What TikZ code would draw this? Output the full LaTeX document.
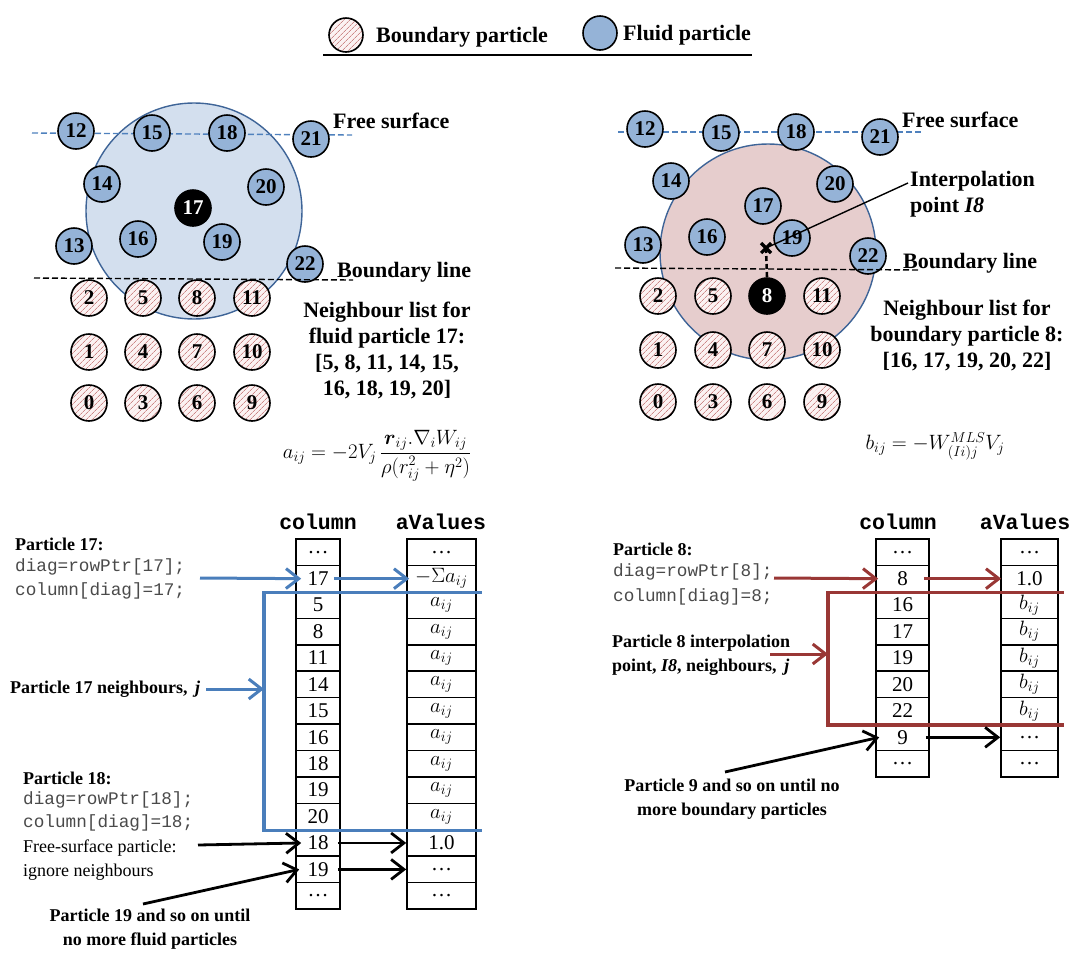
\documentclass[tikz,border=0pt]{standalone}
\usepackage{amsmath}
\usepackage{fontspec}
\setmainfont{Liberation Serif}
\setmonofont{Liberation Mono}
\usetikzlibrary{arrows.meta,patterns.meta}

\definecolor{fluid}{HTML}{95B3D7}
\definecolor{zoneblue}{HTML}{D3DFEE}
\definecolor{zonered}{HTML}{E6CDCD}
\definecolor{zoneedge}{HTML}{3E6497}
\definecolor{hatch}{HTML}{CC8888}
\definecolor{hatchbg}{HTML}{FBF2F2}
\definecolor{linkblue}{HTML}{4A7EBB}
\definecolor{linkred}{HTML}{993735}
\definecolor{codegray}{HTML}{4A4A4A}
\definecolor{surfblue}{HTML}{4F81BD}

\newcommand\bigbf{\fontsize{22}{26}\selectfont\bfseries}
\newcommand\smallbf{\fontsize{18}{24}\selectfont\bfseries}
\newcommand\smallrm{\fontsize{18}{24}\selectfont}
\newcommand\codefont{\fontsize{17.7}{24}\selectfont\ttfamily\color{codegray}}
\newcommand\headfont{\fontsize{21.5}{24}\selectfont\ttfamily\bfseries}
\newcommand\numfont{\fontsize{21}{21}\selectfont\bfseries}
\newcommand\cellfont{\fontsize{21}{21}\selectfont}

\begin{document}
\begin{tikzpicture}[x=1pt,y=-1pt,
  fluidp/.style={circle, draw=black, line width=1.6pt, fill=fluid, minimum size=36pt, inner sep=0pt, font=\numfont},
  bndp/.style={circle, draw=black, line width=1.6pt, minimum size=36pt, inner sep=0pt, font=\numfont,
    preaction={fill=hatchbg}, pattern={Lines[angle=45,distance=4pt,line width=0.7pt]}, pattern color=hatch},
  hotp/.style={circle, draw=black, line width=1.6pt, fill=black, text=white, minimum size=36pt, inner sep=0pt, font=\numfont},
  zone/.style={circle, draw=zoneedge, line width=1.4pt, inner sep=0pt, minimum size=216pt},
  surfline/.style={surfblue, dash pattern=on 6pt off 3pt, line width=1.4pt},
  bndline/.style={black, dash pattern=on 6pt off 3pt, line width=1.4pt},
  txt/.style={inner sep=0pt, anchor=west},
  cell/.style={draw=black, line width=1.6pt, minimum height=26.43pt, inner sep=0pt, font=\cellfont},
  bluearrow/.style={draw=linkblue, line width=3pt, -{Straight Barb[length=4.5mm,width=7mm]}},
  redarrow/.style={draw=linkred, line width=3pt, -{Straight Barb[length=4.5mm,width=7mm]}},
  blackarrow/.style={draw=black, line width=2.8pt, -{Straight Barb[length=4.5mm,width=7mm]}},
  bluebrk/.style={linkblue, line width=3.2pt},
  redbrk/.style={linkred, line width=3.2pt},
]
\useasboundingbox (0,0) rectangle (1077,954);

% ---------------- legend ----------------
\node[bndp, minimum size=34pt] (legB) at (346,35) {};
\node[txt, font=\bigbf] (legBt) at (376,37) {Boundary particle};
\node[fluidp, minimum size=34pt] (legF) at (600,33) {};
\node[txt, font=\bigbf] (legFt) at (623,35) {Fluid particle};
\coordinate (legL) at (323,55);
\coordinate (legR) at (752,55);
\draw[line width=2pt] (legL) -- (legR);

% ---------------- fluid particle 17 support ----------------
\node[zone, fill=zoneblue] (zoneL) at (194,211) {};
\coordinate (fsL1) at (32,133); \coordinate (fsL2) at (352,135);
\draw[surfline] (fsL1) -- (fsL2);
\node[fluidp] (L12) at (76,131) {12};
\node[fluidp] (L15) at (152,133) {15};
\node[fluidp] (L18) at (227,133) {18};
\node[fluidp] (L21) at (311,139) {21};
\node[fluidp] (L14) at (102,184) {14};
\node[fluidp] (L20) at (266,187) {20};
\node[hotp]   (L17) at (193,208) {17};
\node[fluidp] (L13) at (74,246) {13};
\node[fluidp] (L16) at (138,239) {16};
\node[fluidp] (L19) at (222,242) {19};
\node[fluidp] (L22) at (305,264) {22};
\foreach \i/\x in {0/89,1/143,2/197,3/252}{
  \foreach \r/\y in {2/298,1/352,0/403}{
    \pgfmathtruncatemacro\n{3*\i+\r}
    \node[bndp] (L\n) at (\x,\y) {\n};
  }
}
\coordinate (blL1) at (34,278); \coordinate (blL2) at (353,280);
\draw[bndline] (blL1) -- (blL2);
\node[txt, font=\bigbf] (fsLt) at (333,121) {Free surface};
\node[txt, font=\bigbf] (blLt) at (337,272) {Boundary line};
\node[inner sep=0pt, font=\bigbf, align=center] (nlL) at (387,350)
  {Neighbour list for\\fluid particle 17:\\{}[5, 8, 11, 14, 15,\\16, 18, 19, 20]};
\node[inner sep=0pt, font=\fontsize{22}{24}\selectfont] (eqA) at (377,456)
  {$a_{ij} = -2V_j\,\dfrac{\boldsymbol{r}_{ij}.\nabla_i W_{ij}}{\rho(r_{ij}^2+\eta^2)}$};

% ---------------- boundary particle 8 support ----------------
\node[zone, fill=zonered] (zoneR) at (768,252) {};
\coordinate (fsR1) at (618,132); \coordinate (fsR2) at (922,132);
\draw[surfline] (fsR1) -- (fsR2);
\node[fluidp] (R12) at (645,129) {12};
\node[fluidp] (R15) at (721,133) {15};
\node[fluidp] (R18) at (796,132) {18};
\node[fluidp] (R21) at (880,137) {21};
\node[fluidp] (R14) at (671,181) {14};
\node[fluidp] (R20) at (835,184) {20};
\node[fluidp] (R17) at (763,206) {17};
\node[fluidp] (R16) at (707,237) {16};
\node[fluidp] (R13) at (643,245) {13};
\node[fluidp] (R19) at (792,238) {19};
\node[fluidp] (R22) at (868,256) {22};
\foreach \i/\x in {0/658,1/713,2/767,3/822}{
  \foreach \r/\y in {2/296,1/350,0/402}{
    \pgfmathtruncatemacro\n{3*\i+\r}
    \ifnum\n=8
      \node[hotp] (R\n) at (\x,\y) {\n};
    \else
      \node[bndp] (R\n) at (\x,\y) {\n};
    \fi
  }
}
\coordinate (blR1) at (615,268); \coordinate (blR2) at (920,270);
\draw[bndline] (blR1) -- (blR2);
% interpolation point I8
\coordinate (x8) at (766,248);
\draw[line width=2.6pt, dash pattern=on 5pt off 3pt] (x8) -- (R8.north);
\draw[line width=3.2pt] ([shift={(-5,-5)}]x8) -- ([shift={(5,5)}]x8)
                     ([shift={(-5,5)}]x8) -- ([shift={(5,-5)}]x8);
\coordinate (ipt) at (908,183);
\draw[line width=1.4pt] (x8) -- (ipt);
\node[txt, font=\bigbf, align=left] (iptt) at (910,194) {Interpolation\\point \textit{I8}};
\node[txt, font=\bigbf] (fsRt) at (902,120) {Free surface};
\node[txt, font=\bigbf] (blRt) at (903,263) {Boundary line};
\node[inner sep=0pt, font=\bigbf, align=center] (nlR) at (967,335)
  {Neighbour list for\\boundary particle 8:\\{}[16, 17, 19, 20, 22]};
\node[inner sep=0pt, font=\fontsize{22}{24}\selectfont] (eqB) at (935,446)
  {$b_{ij} = -W^{MLS}_{(Ii)j}V_j$};

% ---------------- fluid particle arrays ----------------
\node[inner sep=0pt, font=\headfont] (hcL) at (318,522) {column};
\node[inner sep=0pt, font=\headfont] (hvL) at (441,522) {aValues};
\foreach \t [count=\k] in {\dots,17,5,8,11,14,15,16,18,19,20,18,19,\dots}
  \node[cell, minimum width=44pt] (cL\k) at (318,{525.8+26.43*\k}) {\t};
\foreach \t [count=\k] in {\dots,$-\Sigma a_{ij}$,$a_{ij}$,$a_{ij}$,$a_{ij}$,$a_{ij}$,$a_{ij}$,$a_{ij}$,$a_{ij}$,$a_{ij}$,$a_{ij}$,1.0,\dots,\dots}
  \node[cell, minimum width=69pt] (vL\k) at (441.5,{525.8+26.43*\k}) {\t};

\node[txt, font=\smallbf] (p17t) at (15,544) {Particle 17:};
\node[txt, font=\codefont] (p17c1) at (15,567) {diag=rowPtr[17];};
\node[txt, font=\codefont] (p17c2) at (15,591) {column[diag]=17;};
\coordinate (s17) at (200,578);
\draw[bluearrow] (s17) -- ([xshift=6pt]cL2.west);
\draw[bluearrow] ([xshift=-7pt]cL2.east) -- ([xshift=3pt]vL2.west);

\coordinate (brkL) at (264,700);
\draw[bluebrk] ([xshift=5pt]vL2.south east) -- (brkL |- cL2.south) -- (brkL |- cL11.south) -- ([xshift=5pt]vL11.south east);
\node[txt, font=\smallbf] (nbLt) at (10,689) {Particle 17 neighbours,\, \textit{j}};
\coordinate (nbL) at (206,689);
\draw[bluearrow] (nbL) -- (brkL |- nbL);

\node[txt, font=\smallbf] (p18t) at (23,778) {Particle 18:};
\node[txt, font=\codefont] (p18c1) at (23,800) {diag=rowPtr[18];};
\node[txt, font=\codefont] (p18c2) at (23,823) {column[diag]=18;};
\node[txt, font=\smallrm] (p18f1) at (23,848) {Free-surface particle:};
\node[txt, font=\smallrm] (p18f2) at (23,872) {ignore neighbours};
\coordinate (s18) at (198,845);
\draw[blackarrow] (s18) -- ([xshift=6pt]cL12.west);
\draw[blackarrow] ([xshift=-3pt]cL12.east) -- (vL12.west);
\coordinate (s19) at (143,904);
\draw[blackarrow] (s19) -- ([xshift=4pt]cL13.west);
\draw[blackarrow] ([xshift=-3pt]cL13.east) -- (vL13.west);
\node[inner sep=0pt, font=\smallbf, align=center] (p19t) at (150,929)
  {Particle 19 and so on until\\no more fluid particles};

% ---------------- boundary particle arrays ----------------
\node[inner sep=0pt, font=\headfont] (hcR) at (898,522) {column};
\node[inner sep=0pt, font=\headfont] (hvR) at (1025,522) {aValues};
\foreach \t [count=\k] in {\dots,8,16,17,19,20,22,9,\dots}
  \node[cell, minimum width=53pt] (cR\k) at (902.5,{525.8+26.44*\k}) {\t};
\foreach \t [count=\k] in {\dots,1.0,$b_{ij}$,$b_{ij}$,$b_{ij}$,$b_{ij}$,$b_{ij}$,\dots,\dots}
  \node[cell, minimum width=57pt] (vR\k) at (1029.5,{525.8+26.44*\k}) {\t};

\node[txt, font=\smallbf] (p8t) at (613,549) {Particle 8:};
\node[txt, font=\codefont] (p8c1) at (613,572) {diag=rowPtr[8];};
\node[txt, font=\codefont] (p8c2) at (613,597) {column[diag]=8;};
\coordinate (s8) at (774,578);
\draw[redarrow] (s8) -- ([xshift=3pt]cR2.west);
\draw[redarrow] ([xshift=-6pt]cR2.east) -- ([xshift=1pt]vR2.west);

\coordinate (brkR) at (828,650);
\draw[redbrk] ([xshift=5pt]vR2.south east) -- (brkR |- cR2.south) -- (brkR |- cR7.south) -- ([xshift=5pt]vR7.south east);
\node[txt, font=\smallbf, align=left] (nbRt) at (612,655)
  {Particle 8 interpolation\\point, \textit{I8}, neighbours,\, \textit{j}};
\coordinate (nbR) at (770,654);
\draw[redarrow] (nbR) -- (brkR |- nbR);

\draw[blackarrow] ([xshift=-4pt]cR8.east) -- (vR8.west);
\coordinate (s9) at (725,772);
\draw[blackarrow] (s9) -- ([xshift=4pt]cR8.west);
\node[inner sep=0pt, font=\smallbf, align=center] (p9t) at (732,799)
  {Particle 9 and so on until no\\more boundary particles};
\end{tikzpicture}
\end{document}
